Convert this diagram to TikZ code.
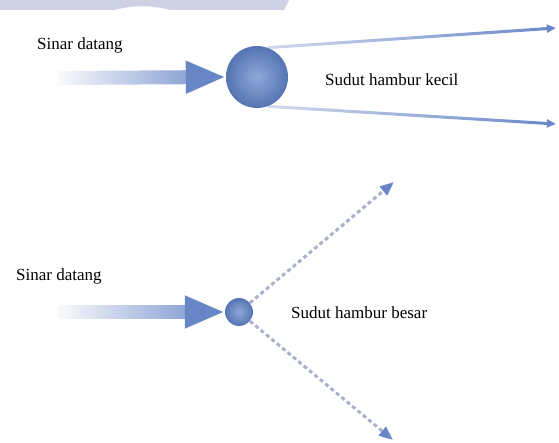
\documentclass[tikz,border=0pt]{standalone}
\usepackage{fontspec}
\setmainfont{Liberation Serif}
\usetikzlibrary{arrows.meta,fadings}

\definecolor{bandgray}{RGB}{206,209,228}
\definecolor{raybl}{RGB}{104,134,198}
\definecolor{dashgray}{RGB}{172,177,202}
\definecolor{ballhi}{RGB}{142,168,218}
\definecolor{ballbl}{RGB}{86,116,178}

\tikzfading[name=fade in, left color=transparent!100, right color=transparent!0]
\tikzfading[name=fade ray, left color=transparent!70, right color=transparent!0]

\begin{document}
\begin{tikzpicture}[x=1pt,y=-1pt]
\tikzstyle{every node}=[inner sep=1pt]
\tikzstyle{txt}=[anchor=west, font=\fontsize{17}{20}\selectfont]
\tikzstyle{sphere}=[circle, shading=radial, inner color=ballhi, outer color=ballbl]
% incident beam: faded shaft, solid head drawn on its own
\tikzstyle{shaft}=[raybl, line width=14pt, shorten >=38pt, path fading=fade in]
\tikzstyle{head}=[raybl, line width=14pt, shorten <=130pt, -{Triangle[length=40pt,width=30pt]}]
\tikzstyle{scatter}=[raybl, line width=3pt, -{Triangle[length=9pt,width=8pt]}, path fading=fade ray]
\tikzstyle{scatterdash}=[dashgray, line width=3pt, dash pattern=on 4pt off 3pt, -{Triangle[length=14pt,width=11pt,color=raybl]}]
\useasboundingbox (0,0) rectangle (559,443);
% band along the top edge
\fill[bandgray] (0,0) -- (289,0) -- (284,10) -- (170,10) .. controls (152,5) and (132,5) .. (115,10) -- (0,10) -- cycle;
% small scattering angle
\draw (257,77) node (ball1) [sphere, minimum size=62pt] {};
\draw (58,78) node (src1) [coordinate] {};
\draw (556,28) node (t1) [coordinate] {};
\draw (556,124) node (t2) [coordinate] {};
\draw (36,45) node (lab1) [txt] {Sinar datang};
\draw (324,80) node (lab2) [txt] {Sudut hambur kecil};
\draw[shaft] (src1) -- (ball1.west);
\draw[head] (src1) -- (ball1.west);
\draw[scatter] (ball1.70) -- (t1);
\draw[scatter] (ball1.-70) -- (t2);
% large scattering angle
\draw (239,312) node (ball2) [sphere, minimum size=28pt] {};
\draw (58,312) node (src2) [coordinate] {};
\draw (394,182) node (t3) [coordinate] {};
\draw (393,440) node (t4) [coordinate] {};
\draw (15,276) node (lab3) [txt] {Sinar datang};
\draw (290,313) node (lab4) [txt] {Sudut hambur besar};
\draw[shaft] (src2) -- (ball2.west);
\draw[head] (src2) -- (ball2.west);
\draw[scatterdash] (ball2) -- (t3);
\draw[scatterdash] (ball2) -- (t4);
\end{tikzpicture}
\end{document}
